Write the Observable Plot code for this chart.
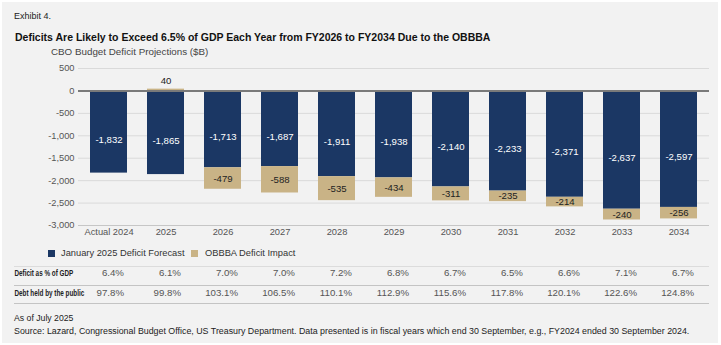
<!DOCTYPE html>
<html><head><meta charset="utf-8">
<script src="https://cdn.jsdelivr.net/npm/d3@7"></script>
<script src="https://cdn.jsdelivr.net/npm/@observablehq/plot@0.6"></script>
<style>
html,body{margin:0;padding:0;background:#fff;}
#wrap{position:relative;width:721px;height:345px;overflow:hidden;font-family:"Liberation Sans",Arial,Helvetica,sans-serif;}
#panel{position:absolute;left:2px;top:2px;width:716px;height:341px;background:#f2f2f2;}
.t{position:absolute;white-space:nowrap;line-height:14px;height:14px;}
.sw{position:absolute;width:7px;height:7px;}
</style></head><body>
<div id="wrap"><div id="panel"></div>
<div id="chart" style="position:absolute;left:0;top:0"></div>
<div class="t" style="left:14px;top:9px;font-size:9px;color:#222">Exhibit 4.</div>
<div class="t" style="left:15px;top:30px;font-size:10.5px;font-weight:bold;color:#111">Deficits Are Likely to Exceed 6.5% of GDP Each Year from FY2026 to FY2034 Due to the OBBBA</div>
<div class="t" style="left:51px;top:45px;font-size:9.8px;color:#444">CBO Budget Deficit Projections ($B)</div>
<div class="sw" style="left:48px;top:250px;background:#1b3764"></div>
<div class="t" style="left:61px;top:246px;font-size:9.3px;color:#333">January 2025 Deficit Forecast</div>
<div class="sw" style="left:191px;top:250px;background:#c9b386"></div>
<div class="t" style="left:205px;top:246px;font-size:9.3px;color:#333">OBBBA Deficit Impact</div>
<div class="t" style="left:14px;top:311px;font-size:8.7px;color:#222">As of July 2025</div>
<div class="t" style="left:14px;top:324px;font-size:8.85px;color:#222">Source: Lazard, Congressional Budget Office, US Treasury Department. Data presented is in fiscal years which end 30 September, e.g., FY2024 ended 30 September 2024.</div>
</div>
<script>
const years = ["Actual 2024","2025","2026","2027","2028","2029","2030","2031","2032","2033","2034"];
const forecast = [-1832,-1865,-1713,-1687,-1911,-1938,-2140,-2233,-2371,-2637,-2597];
const impact = [null,40,-479,-588,-535,-434,-311,-235,-214,-240,-256];
const seriesNames = ["January 2025 Deficit Forecast","OBBBA Deficit Impact"];
const deficitPct = ["6.4%","6.1%","7.0%","7.0%","7.2%","6.8%","6.7%","6.5%","6.6%","7.1%","6.7%"];
const debtPct = ["97.8%","99.8%","103.1%","106.5%","110.1%","112.9%","115.6%","117.8%","120.1%","122.6%","124.8%"];
const rowLabels = ["Deficit as % of GDP","Debt held by the public"];
const yTicks = [500,0,-500,-1000,-1500,-2000,-2500,-3000];

const navy = "#1b3764", tan = "#c9b386";
const fmt = d3.formatLocale({decimal:".",thousands:",",grouping:[3],currency:["$",""],minus:"-"}).format(",");

const rows = years.flatMap((yr,i)=>[
  {year:yr, series:seriesNames[0], value:forecast[i]},
  {year:yr, series:seriesNames[1], value:impact[i]}
]).filter(d=>d.value!=null);

const labF = years.map((yr,i)=>({year:yr, y:forecast[i]/2, text:fmt(forecast[i])}));
const labI = years.map((yr,i)=>impact[i]==null||impact[i]>0?null:({year:yr, y:forecast[i]+impact[i]/2, text:fmt(impact[i])})).filter(Boolean);
const labPos = years.map((yr,i)=>impact[i]!=null&&impact[i]>0?({year:yr, y:impact[i], text:fmt(impact[i])}):null).filter(Boolean);

const chart = Plot.plot({
  width:721, height:345,
  marginTop:68, marginBottom:120, marginLeft:78, marginRight:12,
  style:{background:"transparent", fontFamily:"'Liberation Sans',Arial,Helvetica,sans-serif", fontSize:"9.3px", color:"#555"},
  x:{domain:years, paddingInner:0.355, paddingOuter:0.1775, label:null, tickSize:0, tickPadding:3},
  y:{domain:[-3000,500], ticks:yTicks, tickFormat:fmt, label:null, tickSize:0, tickPadding:4},
  color:{domain:seriesNames, range:[navy, tan]},
  marks:[
    Plot.ruleY(yTicks.filter(v=>v!==0 && v!==-3000), {stroke:"#dadada"}),
    Plot.ruleY([-3000], {stroke:"#c6c6c6"}),
    Plot.barY(rows, {x:"year", y:"value", fill:"series"}),
    Plot.ruleY([0], {stroke:"#7a7a7a", strokeWidth:2}),
    Plot.text(labF, {x:"year", y:"y", text:"text", fill:"white", dy:8, fontSize:9.6}),
    Plot.text(labI, {x:"year", y:"y", text:"text", fill:"#222", fontSize:9.6}),
    Plot.text(labPos, {x:"year", y:"y", text:"text", fill:"#222", dy:-8, fontSize:9.6}),
    // table
    Plot.ruleY([-3000], {dy:41, insetLeft:-64, stroke:"#dcdcdc"}),
    Plot.ruleY([-3000], {dy:60, insetLeft:-64, stroke:"#c4c4c4"}),
    Plot.ruleY([-3000], {dy:78, insetLeft:-64, stroke:"#c4c4c4"}),
    Plot.text(years, {x:d=>d, text:(d,i)=>deficitPct[i], frameAnchor:"bottom", dy:50, dx:15, textAnchor:"end", fill:"#555", fontSize:9.7}),
    Plot.text(years, {x:d=>d, text:(d,i)=>debtPct[i], frameAnchor:"bottom", dy:70, dx:15, textAnchor:"end", fill:"#555", fontSize:9.7}),
    Plot.text([rowLabels[0]], {text:d=>d, frameAnchor:"bottom-left", dx:-64, dy:50, textAnchor:"start", fontWeight:"bold", fontSize:8.8, fill:"#222"}),
    Plot.text([rowLabels[1]], {text:d=>d, frameAnchor:"bottom-left", dx:-64, dy:70, textAnchor:"start", fontWeight:"bold", fontSize:8.8, fill:"#222"})
  ]
});
document.getElementById("chart").appendChild(chart);
// condense the bold row labels horizontally, like the reference's narrow font
const condensed = {"Deficit as % of GDP":59, "Debt held by the public":70};
d3.select(chart).selectAll("text").each(function(){
  const w = condensed[this.textContent];
  if (!w) return;
  const bb = this.getBBox();
  const s = w / bb.width;
  const t = this.getAttribute("transform") || "";
  this.setAttribute("transform", `${t} translate(${bb.x},0) scale(${s},1) translate(${-bb.x},0)`);
});
</script>
</body></html>
